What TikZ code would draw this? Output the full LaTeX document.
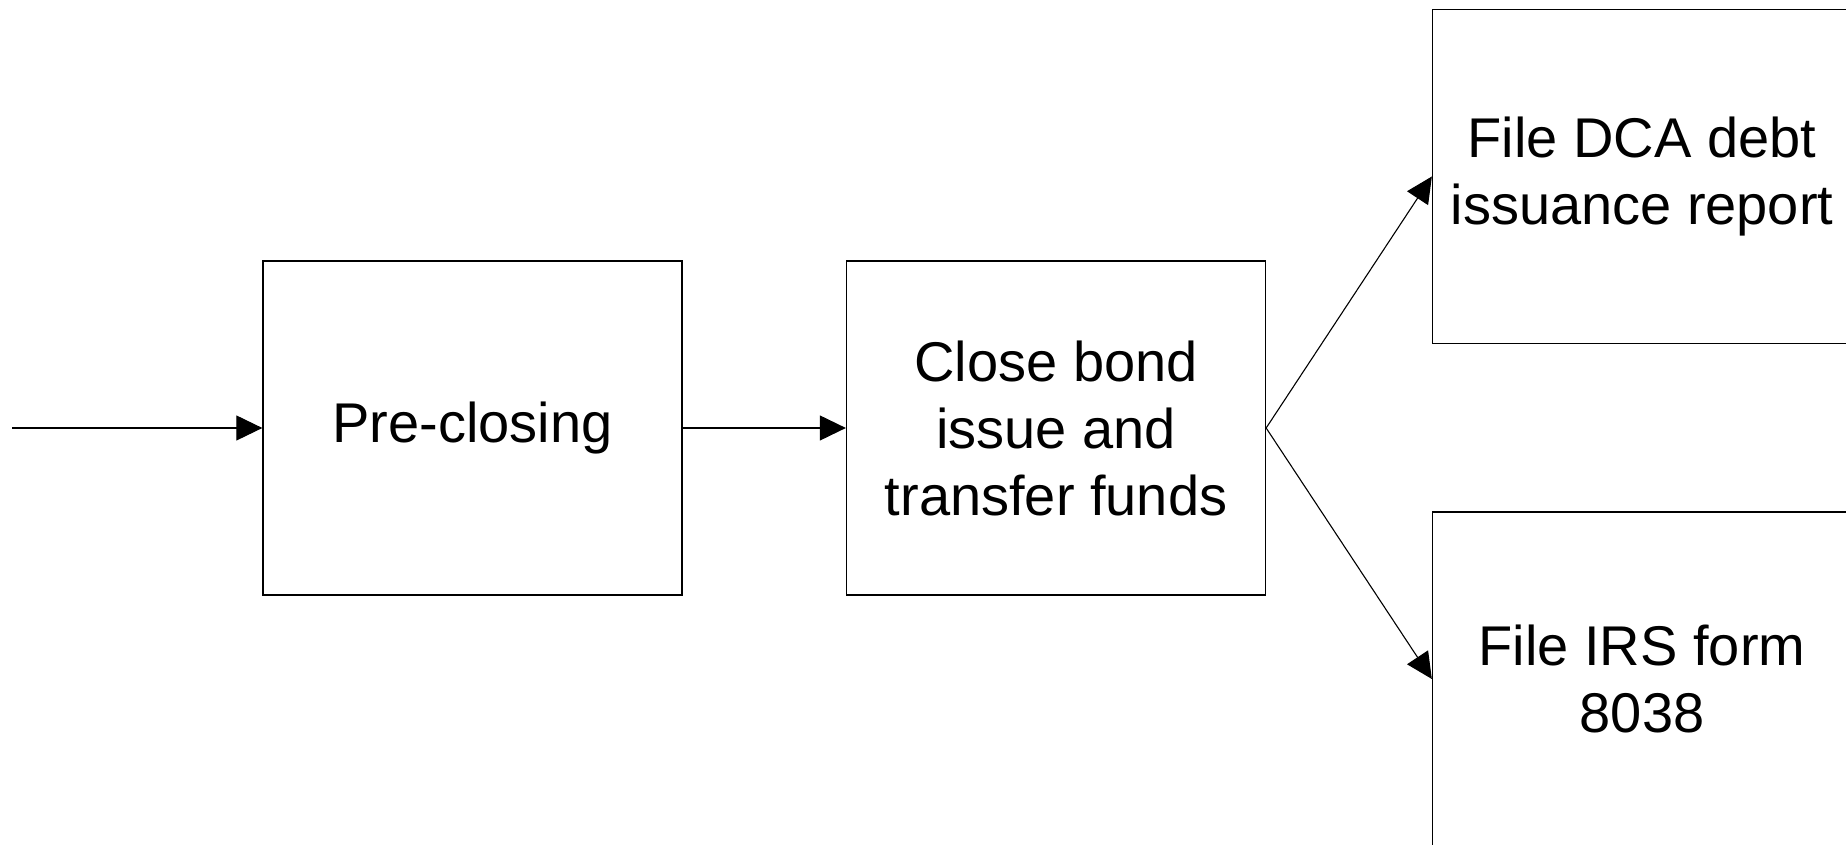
\documentclass[tikz,border=0pt]{standalone}
\usepackage{fontspec}
\setmainfont{Liberation Sans}
\usetikzlibrary{arrows.meta}
\begin{document}
\begin{tikzpicture}[x=1pt,y=1pt,
  procbox/.style={draw=black, line width=1.3pt, minimum width=419pt, minimum height=334pt, inner sep=0pt, align=center, font=\fontsize{56}{67}\selectfont},
  flow/.style={draw=black, line width=1.1pt, -{Triangle[length=26pt,width=25pt]}}]
\useasboundingbox (0,0) rectangle (1846,845);
\clip (0,0) rectangle (1846,845);
\node[procbox] (pre) at (472.5,417) {Pre-closing};
\node[procbox] (close) at (1056,417) {Close bond\\issue and\\transfer funds};
\node[procbox] (dca) at (1642,668.5) {File DCA debt\\issuance report};
\node[procbox] (irs) at (1642,166) {File IRS form\\8038};
\coordinate (start) at (12,417);
\draw[flow] (start) -- (pre.west);
\draw[flow] (pre.east) -- (close.west);
\draw[flow] (close.east) -- (dca.west);
\draw[flow] (close.east) -- (irs.west);
\end{tikzpicture}
\end{document}
